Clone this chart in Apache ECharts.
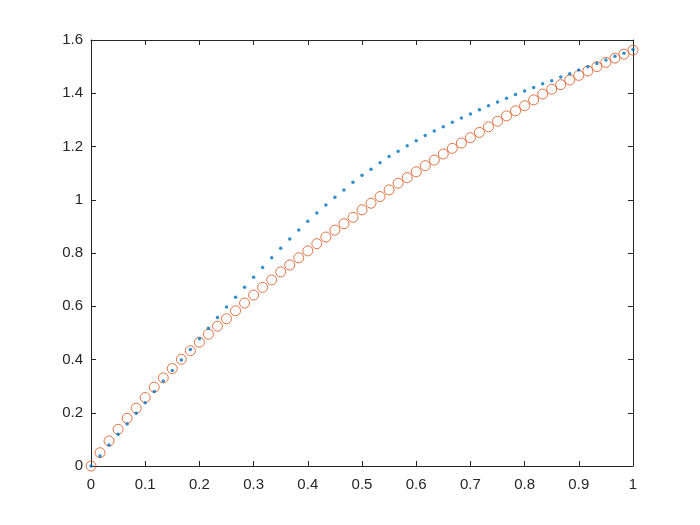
<!DOCTYPE html>
<html>
<head>
<meta charset="utf-8">
<script src="https://cdn.jsdelivr.net/npm/echarts@6/dist/echarts.min.js"></script>
<style>html,body{margin:0;padding:0;background:#fff;}#c{width:700px;height:525px;}</style>
</head>
<body>
<div id="c"></div>
<script>
// 61 samples evenly spaced on [0, 1]
const sampleCount = 61;
const xTicks = ['0','0.1','0.2','0.3','0.4','0.5','0.6','0.7','0.8','0.9','1'];
const yTicks = ['0','0.2','0.4','0.6','0.8','1','1.2','1.4','1.6'];

const blueDots = [
  0, 0.038, 0.079, 0.119, 0.158, 0.198, 0.238, 0.280, 0.319, 0.359,
  0.398, 0.438, 0.478, 0.517, 0.558, 0.597, 0.634, 0.671, 0.709, 0.746,
  0.782, 0.818, 0.853, 0.886, 0.919, 0.950, 0.980, 1.009, 1.037, 1.066,
  1.092, 1.115, 1.139, 1.162, 1.182, 1.203, 1.222, 1.241, 1.258, 1.274,
  1.291, 1.307, 1.322, 1.338, 1.353, 1.367, 1.381, 1.395, 1.408, 1.422,
  1.436, 1.447, 1.461, 1.473, 1.487, 1.500, 1.512, 1.525, 1.539, 1.550,
  1.564
];
const orangeCircles = [
  0, 0.050, 0.094, 0.138, 0.179, 0.217, 0.257, 0.296, 0.331, 0.366,
  0.401, 0.433, 0.465, 0.495, 0.525, 0.553, 0.583, 0.612, 0.642, 0.671,
  0.699, 0.729, 0.755, 0.782, 0.808, 0.835, 0.860, 0.886, 0.910, 0.934,
  0.962, 0.987, 1.012, 1.037, 1.062, 1.083, 1.105, 1.128, 1.149, 1.172,
  1.193, 1.213, 1.233, 1.253, 1.274, 1.295, 1.315, 1.334, 1.353, 1.375,
  1.397, 1.415, 1.432, 1.450, 1.467, 1.484, 1.500, 1.516, 1.532, 1.547,
  1.562
];

const xs = [];
for (let i = 0; i < sampleCount; i++) xs.push(i / (sampleCount - 1));
const pairs = arr => arr.map((v, i) => [xs[i], v]);

const axisColor = '#262626';
const labelStyle = { color: '#262626', fontSize: 15, fontFamily: 'Liberation Sans, Arial, sans-serif' };
const fmtX = v => { const s = (+v.toFixed(1)).toString(); return xTicks.indexOf(s) >= 0 ? s : ''; };
const fmtY = v => { const s = (+v.toFixed(1)).toString(); return yTicks.indexOf(s) >= 0 ? s : ''; };

const chart = echarts.init(document.getElementById('c'), null, { renderer: 'canvas' });
chart.setOption({
  animation: false,
  backgroundColor: '#ffffff',
  grid: { left: 91, right: 67, top: 40, bottom: 59, containLabel: false },
  xAxis: [
    { type: 'value', min: 0, max: 1, interval: 0.1, position: 'bottom',
      axisLine: { show: true, lineStyle: { color: axisColor, width: 1 } },
      axisTick: { show: true, inside: true, length: 5, lineStyle: { color: axisColor } },
      axisLabel: Object.assign({ margin: 11, formatter: fmtX }, labelStyle),
      splitLine: { show: false } },
    { type: 'value', min: 0, max: 1, interval: 0.1, position: 'top',
      axisLine: { show: true, onZero: false, lineStyle: { color: axisColor, width: 1 } },
      axisTick: { show: true, inside: true, length: 5, lineStyle: { color: axisColor } },
      axisLabel: { show: false }, splitLine: { show: false } }
  ],
  yAxis: [
    { type: 'value', min: 0, max: 1.6, interval: 0.2, position: 'left',
      axisLine: { show: true, lineStyle: { color: axisColor, width: 1 } },
      axisTick: { show: true, inside: true, length: 5, lineStyle: { color: axisColor } },
      axisLabel: Object.assign({ margin: 8, formatter: fmtY }, labelStyle),
      splitLine: { show: false } },
    { type: 'value', min: 0, max: 1.6, interval: 0.2, position: 'right',
      axisLine: { show: true, onZero: false, lineStyle: { color: axisColor, width: 1 } },
      axisTick: { show: true, inside: true, length: 5, lineStyle: { color: axisColor } },
      axisLabel: { show: false }, splitLine: { show: false } }
  ],
  series: [
    { type: 'scatter', xAxisIndex: 0, yAxisIndex: 0, data: pairs(orangeCircles),
      symbol: 'circle', symbolSize: 10,
      itemStyle: { color: 'rgba(0,0,0,0)', borderColor: '#D95319', borderWidth: 1 },
      silent: true, z: 2 },
    { type: 'scatter', xAxisIndex: 0, yAxisIndex: 0, data: pairs(blueDots),
      symbol: 'circle', symbolSize: 3.5,
      itemStyle: { color: '#0072BD' }, silent: true, z: 3 }
  ]
});
</script>
</body>
</html>
